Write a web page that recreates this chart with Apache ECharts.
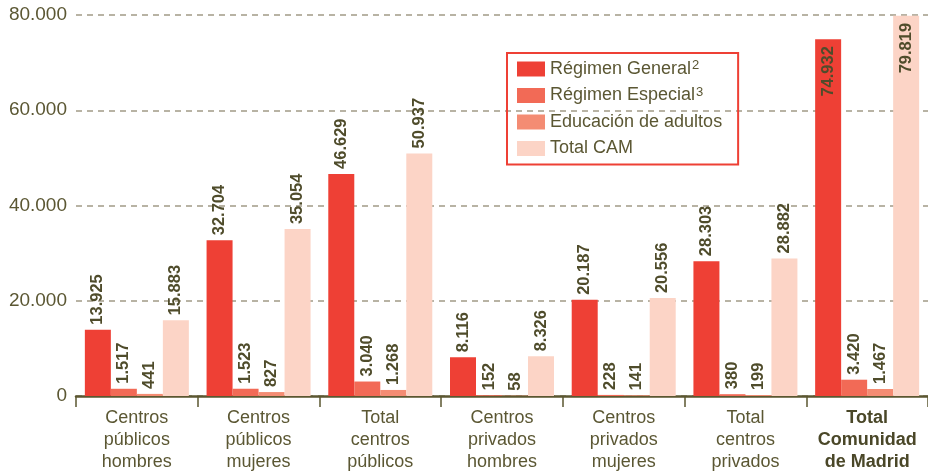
<!DOCTYPE html>
<html>
<head>
<meta charset="utf-8">
<script src="https://cdn.jsdelivr.net/npm/echarts@6/dist/echarts.min.js"></script>
<style>
  html, body { margin: 0; padding: 0; background: #fff; }
  #chart { width: 928px; height: 473px; }
</style>
</head>
<body>
<div id="chart"></div>
<script>
const categories = [
  'Centros\npúblicos\nhombres',
  'Centros\npúblicos\nmujeres',
  'Total\ncentros\npúblicos',
  'Centros\nprivados\nhombres',
  'Centros\nprivados\nmujeres',
  'Total\ncentros\nprivados',
  'Total\nComunidad\nde Madrid'
]
const regimenGeneral = [13925, 32704, 46629, 8116, 20187, 28303, 74932]
const regimenEspecial = [1517, 1523, 3040, 152, 228, 380, 3420]
const educacionAdultos = [441, 827, 1268, 58, 141, 199, 1467]
const totalCAM = [15883, 35054, 50937, 8326, 20556, 28882, 79819]

const textColor = '#5b5733'
const fontFamily = 'Liberation Sans, Arial, sans-serif'

function fmt(v) {
  return String(v).replace(/\B(?=(\d{3})+(?!\d))/g, '.')
}

// labels sit above the bars, except the two tall ones in the last group
function buildData(values, insideLast) {
  return values.map((v, i) => {
    if (insideLast && i === values.length - 1) {
      return {
        value: v,
        label: { position: 'insideTop', align: 'right', distance: 7 }
      }
    }
    return v
  })
}

function makeSeries(name, values, color, insideLast) {
  return {
    name: name,
    type: 'bar',
    barWidth: 26,
    barGap: '0%',
    itemStyle: { color: color },
    label: {
      show: true,
      position: 'top',
      rotate: 90,
      align: 'left',
      verticalAlign: 'middle',
      distance: 5,
      color: '#4f4c2b',
      fontWeight: 'bold',
      fontSize: 16.5,
      fontFamily: fontFamily,
      formatter: p => fmt(p.value)
    },
    data: buildData(values, insideLast)
  }
}

const chart = echarts.init(document.getElementById('chart'))

chart.setOption({
  animation: false,
  backgroundColor: '#fff',
  grid: { left: 76, right: -2, top: 15, bottom: 77 },
  legend: {
    orient: 'vertical',
    left: 507,
    top: 53,
    padding: [6, 16, 6, 10],
    borderColor: '#ee4035',
    borderWidth: 2,
    itemWidth: 28,
    itemHeight: 15,
    itemGap: 6.5,
    icon: 'rect',
    textStyle: {
      color: textColor,
      fontSize: 18,
      fontFamily: fontFamily,
      lineHeight: 20,
      rich: {
        n: { fontSize: 18, lineHeight: 20, color: textColor, fontFamily: fontFamily },
        s: { fontSize: 13, lineHeight: 16, color: textColor, fontFamily: fontFamily, verticalAlign: 'top', padding: [0, 0, 0, 1] }
      }
    },
    formatter: name => {
      if (name === 'Régimen General') return '{n|Régimen General}{s|2}'
      if (name === 'Régimen Especial') return '{n|Régimen Especial}{s|3}'
      return '{n|' + name + '}'
    },
    data: ['Régimen General', 'Régimen Especial', 'Educación de adultos', 'Total CAM']
  },
  xAxis: {
    type: 'category',
    data: categories,
    axisLine: { lineStyle: { color: '#5b5731', width: 2.5 } },
    axisTick: { show: true, interval: 0, length: 11, lineStyle: { color: '#5b5731', width: 1.5 } },
    axisLabel: {
      interval: 0,
      margin: 11,
      color: textColor,
      fontSize: 18,
      lineHeight: 22,
      fontFamily: fontFamily,
      formatter: (value, idx) => {
        if (idx === categories.length - 1) {
          return value.split('\n').map(s => '{b|' + s + '}').join('\n')
        }
        return value
      },
      rich: {
        b: { fontWeight: 'bold', fontSize: 18, lineHeight: 22, color: '#4a4728', fontFamily: fontFamily }
      }
    }
  },
  yAxis: {
    type: 'value',
    min: 0,
    max: 80000,
    interval: 20000,
    axisLine: { show: false },
    axisTick: { show: false },
    axisLabel: {
      margin: 9,
      color: textColor,
      fontSize: 19,
      fontFamily: fontFamily,
      formatter: v => fmt(v)
    },
    splitLine: {
      lineStyle: { color: '#a19a86', width: 1.5, type: [6, 5] }
    }
  },
  series: [
    makeSeries('Régimen General', regimenGeneral, '#ee4035', true),
    makeSeries('Régimen Especial', regimenEspecial, '#f26a56', false),
    makeSeries('Educación de adultos', educacionAdultos, '#f48c73', false),
    makeSeries('Total CAM', totalCAM, '#fcd4c6', true)
  ]
})
</script>
</body>
</html>
